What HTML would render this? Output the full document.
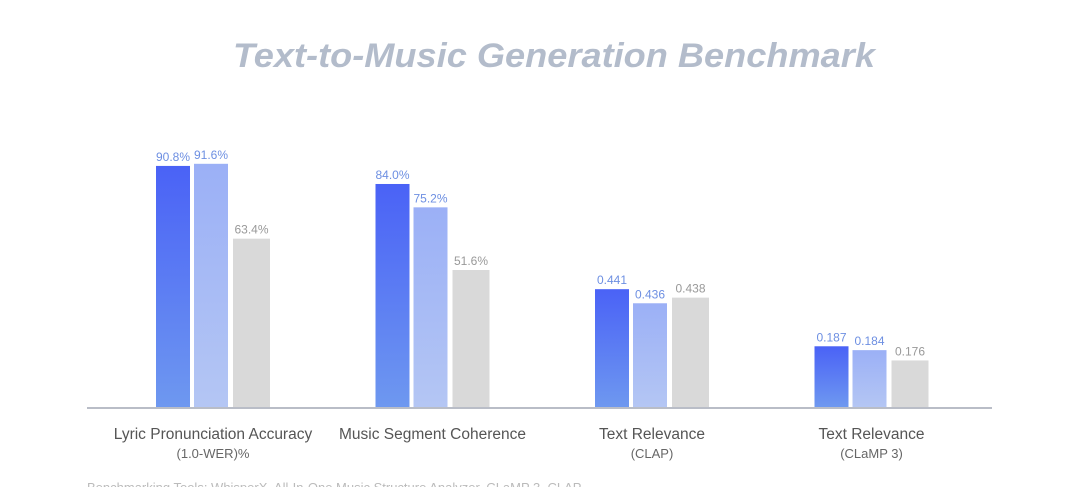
<!DOCTYPE html>
<html><head><meta charset="utf-8"><style>
html,body{margin:0;padding:0;background:#fff;}
svg{display:block;font-family:"Liberation Sans",sans-serif;}
</style></head><body>
<svg id="chart" width="1080" height="487" viewBox="0 0 1080 487">
<defs>
<linearGradient id="gA" x1="0" y1="0" x2="0" y2="1"><stop offset="0" stop-color="#4a62f6"/><stop offset="1" stop-color="#6e98f0"/></linearGradient>
<linearGradient id="gB" x1="0" y1="0" x2="0" y2="1"><stop offset="0" stop-color="#9bb0f6"/><stop offset="1" stop-color="#b4c6f4"/></linearGradient>
</defs>
<text x="554" y="67" text-anchor="middle" font-size="34" font-weight="bold" font-style="italic" fill="#b3bccb" textLength="642" lengthAdjust="spacingAndGlyphs">Text-to-Music Generation Benchmark</text>
<g id="bars"></g>
<line x1="87" y1="408" x2="992" y2="408" stroke="#b9bdc7" stroke-width="2"/>
<text x="87" y="492" font-size="13" fill="#bbbbbb">Benchmarking Tools: WhisperX, All-In-One Music Structure Analyzer, CLaMP 3, CLAP</text>
</svg>
<script>
const categories = ["Lyric Pronunciation Accuracy", "Music Segment Coherence", "Text Relevance", "Text Relevance"];
const subLabels = ["(1.0-WER)%", "", "(CLAP)", "(CLaMP 3)"];
const seriesA = [90.8, 84.0, 0.441, 0.187];
const seriesB = [91.6, 75.2, 0.436, 0.184];
const seriesC = [63.4, 51.6, 0.438, 0.176];
const valueLabelsA = ["90.8%", "84.0%", "0.441", "0.187"];
const valueLabelsB = ["91.6%", "75.2%", "0.436", "0.184"];
const valueLabelsC = ["63.4%", "51.6%", "0.438", "0.176"];

const NS = "http://www.w3.org/2000/svg";
const baseY = 407;
const groupX = i => 156 + i * 219.5;
// per-group scales (each metric has its own axis)
function yScale(gi, v) {
  if (gi < 2) return baseY - v * 2.655;
  if (gi === 2) return baseY - (110.3 + 2818 * (v - 0.43833));
  return baseY - (54.7 + 1289 * (v - 0.18233));
}
const g = document.getElementById("bars");
function add(tag, attrs, text) {
  const el = document.createElementNS(NS, tag);
  for (const k in attrs) el.setAttribute(k, attrs[k]);
  if (text !== undefined) el.textContent = text;
  g.appendChild(el);
  return el;
}
const series = [
  {vals: seriesA, labels: valueLabelsA, fill: "url(#gA)", tc: "#6d8fe2", off: 0, w: 34},
  {vals: seriesB, labels: valueLabelsB, fill: "url(#gB)", tc: "#6d8fe2", off: 38, w: 34},
  {vals: seriesC, labels: valueLabelsC, fill: "#d9d9d9", tc: "#999999", off: 77, w: 37}
];
categories.forEach((c, i) => {
  const x0 = groupX(i);
  series.forEach((s, si) => {
    const y = yScale(i, s.vals[i]);
    const r = add("rect", {x: x0 + s.off, y: y, width: s.w, height: baseY - y, fill: s.fill});
    
    
    const t = add("text", {x: x0 + s.off + s.w / 2, y: y - 5, "text-anchor": "middle", "font-size": "12", fill: s.tc}, s.labels[i]);
    
    
  });
  const cx = x0 + 57;
  const l = add("text", {x: cx, y: 439, "text-anchor": "middle", "font-size": "15.5", fill: "#555"}, c);
  
  
  if (subLabels[i]) {
    const s2 = add("text", {x: cx, y: 458, "text-anchor": "middle", "font-size": "13", fill: "#666"}, subLabels[i]);
    
    
  }
});
</script>
</body></html>
